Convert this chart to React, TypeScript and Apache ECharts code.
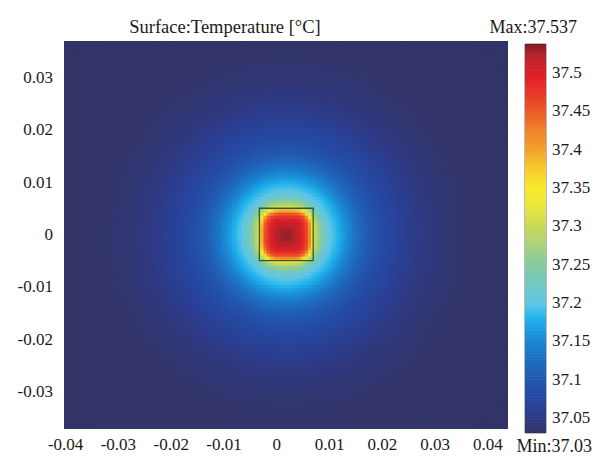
import React, { useEffect, useRef } from 'react';
import * as echarts from 'echarts';

// ---- axis / range data ----
const xTicks = [-0.04, -0.03, -0.02, -0.01, 0, 0.01, 0.02, 0.03, 0.04];
const yTicks = [-0.03, -0.02, -0.01, 0, 0.01, 0.02, 0.03];
const colorbarTicks = [37.05, 37.1, 37.15, 37.2, 37.25, 37.3, 37.35, 37.4, 37.45, 37.5];
const xRange = [-0.0403, 0.0438];
const yRange = [-0.0371, 0.0369];
const tempMin = 37.03;
const tempMax = 37.537;
const titleText = 'Surface:Temperature [°C]';
const maxText = 'Max:37.537';
const minText = 'Min:37.03';

// heat source (drawn square) and hot-spot centre
const heatCenter = [0.0018, 0];
const sourceBox = [-0.0033, -0.005, 0.0069, 0.005];

// temperature profile vs distance from the hot spot
const profileRadius = [0, 0.001, 0.002, 0.003, 0.004, 0.0045, 0.005, 0.0055, 0.006, 0.007, 0.008, 0.009, 0.01, 0.011, 0.012, 0.013, 0.015, 0.0165, 0.018, 0.0195, 0.0225, 0.026, 0.03, 0.035, 0.045, 0.07];
const profileTemp = [37.532, 37.528, 37.516, 37.495, 37.455, 37.41, 37.345, 37.3, 37.27, 37.232, 37.208, 37.192, 37.177, 37.162, 37.147, 37.132, 37.108, 37.094, 37.084, 37.076, 37.061, 37.049, 37.041, 37.036, 37.033, 37.031];

// colour map (rainbow) stops
const colorStopTemps = [37.03, 37.035, 37.045, 37.06, 37.08, 37.1, 37.12, 37.14, 37.16, 37.18, 37.2, 37.25, 37.3, 37.33, 37.35, 37.38, 37.4, 37.43, 37.46, 37.49, 37.51, 37.525, 37.537];
const colorStopColors = ['#323366', '#333569', '#30387c', '#2b3f92', '#2549a3', '#2258ae', '#1f68bc', '#1b7ccc', '#1a94dc', '#22b4ec', '#5ec6e6', '#86caa0', '#c8da58', '#eee838', '#f8ea2a', '#f6c42c', '#f4a22c', '#f07a2a', '#ea4a28', '#e5222a', '#cc2028', '#b0242a', '#7a1c22'];

const FONT = 'Liberation Serif';

function hexToRgb(h: string) {
  const n = parseInt(h.slice(1), 16);
  return [(n >> 16) & 255, (n >> 8) & 255, n & 255];
}
const stopRgb = colorStopColors.map(hexToRgb);

function colorFor(t: number) {
  if (t <= colorStopTemps[0]) return colorStopColors[0];
  const last = colorStopTemps.length - 1;
  if (t >= colorStopTemps[last]) return colorStopColors[last];
  let i = 0;
  while (t > colorStopTemps[i + 1]) i++;
  const f = (t - colorStopTemps[i]) / (colorStopTemps[i + 1] - colorStopTemps[i]);
  const a = stopRgb[i], b = stopRgb[i + 1];
  const c = a.map((v, k) => Math.round(v + (b[k] - v) * f));
  return `rgb(${c[0]},${c[1]},${c[2]})`;
}

function tempAtDistance(d: number) {
  const last = profileRadius.length - 1;
  if (d >= profileRadius[last]) return profileTemp[last];
  let i = 0;
  while (d > profileRadius[i + 1]) i++;
  const f = (d - profileRadius[i]) / (profileRadius[i + 1] - profileRadius[i]);
  return profileTemp[i] + (profileTemp[i + 1] - profileTemp[i]) * f;
}

const CELL = 0.0006;

function buildField() {
  const out: number[][] = [];
  for (let x = xRange[0] + CELL / 2; x < xRange[1] + CELL; x += CELL) {
    for (let y = yRange[0] + CELL / 2; y < yRange[1] + CELL; y += CELL) {
      const dx = Math.abs(x - heatCenter[0]);
      const dy = Math.abs(y - heatCenter[1]);
      const r2 = Math.sqrt(dx * dx + dy * dy);
      const w = Math.min(1, Math.max(0, (0.0075 - r2) / 0.0035));
      const p = 2 + 2.2 * w;
      const d = Math.pow(Math.pow(dx, p) + Math.pow(dy, p), 1 / p);
      out.push([x, y, tempAtDistance(d)]);
    }
  }
  return out;
}

function buildColorbar() {
  const out: number[][] = [];
  const step = 0.002;
  for (let t = tempMin; t < tempMax; t += step) {
    out.push([t, Math.min(tempMax, t + step)]);
  }
  return out;
}

export default function App() {
  const ref = useRef<HTMLDivElement>(null);
  useEffect(() => {
    if (!ref.current) return;
    const chart = echarts.init(ref.current, undefined, { renderer: 'svg' });
    const field = buildField();
    const bar = buildColorbar();
    const labelStyle = { fontFamily: FONT, fontSize: 17, color: '#1a1a1a' };
    const fmt = (v: number) => String(Math.round(v * 100) / 100);
    chart.setOption({
      animation: false,
      backgroundColor: '#ffffff',
      textStyle: { fontFamily: FONT },
      grid: [
        { left: 64, top: 41, width: 444, height: 388, show: true, backgroundColor: '#333569', borderWidth: 0 },
        { left: 525, top: 44, width: 21, height: 389, show: true, borderColor: '#555', borderWidth: 0.8, backgroundColor: 'transparent' },
      ],
      xAxis: [
        {
          type: 'value', gridIndex: 0, min: xRange[0], max: xRange[1],
          axisLine: { show: false }, axisTick: { show: false }, splitLine: { show: false },
          axisLabel: { ...labelStyle, margin: 7, customValues: xTicks, formatter: fmt },
        },
        { type: 'value', gridIndex: 1, min: 0, max: 1, show: false },
      ],
      yAxis: [
        {
          type: 'value', gridIndex: 0, min: yRange[0], max: yRange[1],
          axisLine: { show: false }, axisTick: { show: false }, splitLine: { show: false },
          axisLabel: { ...labelStyle, margin: 11, customValues: yTicks, formatter: fmt },
        },
        {
          type: 'value', gridIndex: 1, min: tempMin, max: tempMax, position: 'right',
          axisLine: { show: false }, splitLine: { show: false },
          axisTick: { show: false },
          axisLabel: { ...labelStyle, margin: 6, customValues: colorbarTicks, formatter: fmt },
        },
        {
          type: 'value', gridIndex: 1, min: tempMin, max: tempMax, position: 'left',
          axisLine: { show: false }, splitLine: { show: false },
          axisTick: { show: true, inside: true, length: 4, customValues: colorbarTicks, lineStyle: { color: '#3a3a3a', width: 1 } },
          axisLabel: { show: false },
        },
      ],
      series: [
        {
          type: 'custom', xAxisIndex: 0, yAxisIndex: 0, clip: true, progressive: 0,
          data: field,
          renderItem: (params: any, api: any) => {
            const x = api.value(0), y = api.value(1), t = api.value(2);
            const p0 = api.coord([x - CELL / 2, y + CELL / 2]);
            const p1 = api.coord([x + CELL / 2, y - CELL / 2]);
            return {
              type: 'rect',
              shape: { x: p0[0], y: p0[1], width: p1[0] - p0[0] + 0.7, height: p1[1] - p0[1] + 0.7 },
              style: { fill: colorFor(t) },
              silent: true,
            };
          },
        },
        {
          type: 'custom', xAxisIndex: 0, yAxisIndex: 0, clip: true,
          data: [sourceBox],
          renderItem: (params: any, api: any) => {
            const p0 = api.coord([api.value(0), api.value(3)]);
            const p1 = api.coord([api.value(2), api.value(1)]);
            return {
              type: 'rect',
              shape: { x: p0[0], y: p0[1], width: p1[0] - p0[0], height: p1[1] - p0[1] },
              style: { fill: 'none', stroke: '#2e5a36', lineWidth: 1.3 },
              z2: 10,
            };
          },
        },
        {
          type: 'custom', xAxisIndex: 1, yAxisIndex: 1, clip: true, progressive: 0,
          data: bar,
          renderItem: (params: any, api: any) => {
            const t0 = api.value(0), t1 = api.value(1);
            const p0 = api.coord([0, t1]);
            const p1 = api.coord([1, t0]);
            return {
              type: 'rect',
              shape: { x: p0[0], y: p0[1], width: p1[0] - p0[0], height: p1[1] - p0[1] + 0.6 },
              style: { fill: colorFor((t0 + t1) / 2) },
              silent: true,
            };
          },
        },
      ],
      graphic: [
        { type: 'text', x: 225, y: 27, style: { text: titleText, font: `18.5px ${FONT}`, fill: '#1a1a1a', textAlign: 'center', textVerticalAlign: 'middle' } },
        { type: 'text', x: 577, y: 27, style: { text: maxText, font: `18px ${FONT}`, fill: '#1a1a1a', textAlign: 'right', textVerticalAlign: 'middle' } },
        { type: 'text', x: 592, y: 446, style: { text: minText, font: `18px ${FONT}`, fill: '#1a1a1a', textAlign: 'right', textVerticalAlign: 'middle' } },
      ],
    });
    return () => chart.dispose();
  }, []);
  return <div ref={ref} style={{ position: 'fixed', left: 0, top: 0, width: 595, height: 462 }} />;
}
